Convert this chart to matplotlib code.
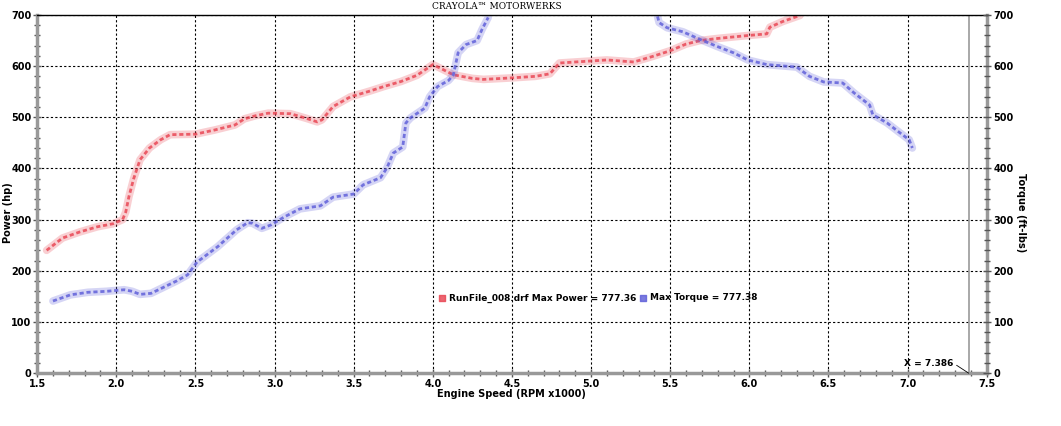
import matplotlib.pyplot as plt
import numpy as np

# engine speed (RPM x1000) and power (hp)
rpm_power = [1.56, 1.66, 1.77, 1.88, 1.98, 2.04, 2.06, 2.08, 2.11, 2.15, 2.21, 2.28, 2.34,
             2.5, 2.62, 2.75, 2.81, 2.88, 2.96, 3.1, 3.2, 3.27, 3.3, 3.37, 3.48, 3.6,
             3.69, 3.8, 3.9, 4.0, 4.06, 4.13, 4.25, 4.32, 4.5, 4.65, 4.74, 4.8, 5.0,
             5.1, 5.27, 5.39, 5.5, 5.6, 5.69, 5.8, 5.9, 6.0, 6.11, 6.13, 6.21, 6.32]
power = [240, 264, 276, 286, 292, 300, 315, 345, 380, 417, 440, 456, 466,
         467, 475, 485, 497, 503, 508, 507, 498, 491, 495, 521, 540, 551,
         560, 570, 582, 603, 594, 583, 576, 574, 577, 580, 585, 606, 610,
         612, 608, 619, 630, 643, 650, 654, 657, 660, 663, 676, 687, 699]

# engine speed (RPM x1000) and torque (ft-lbs), low and high rpm segments
rpm_torque_lo = [1.6, 1.71, 1.82, 1.94, 2.05, 2.1, 2.15, 2.22, 2.3, 2.38, 2.45, 2.51, 2.64,
                 2.76, 2.83, 2.86, 2.92, 2.98, 3.06, 3.16, 3.29, 3.37, 3.5, 3.56, 3.67,
                 3.71, 3.75, 3.81, 3.83, 3.86, 3.95, 3.98, 4.03, 4.1, 4.13, 4.16, 4.21,
                 4.28, 4.31, 4.35]
torque_lo = [141, 153, 158, 160, 163, 160, 154, 156, 168, 180, 192, 217, 247,
             280, 294, 293, 283, 290, 305, 321, 327, 344, 350, 368, 382,
             401, 430, 442, 489, 499, 518, 540, 560, 572, 583, 626, 642,
             650, 671, 695]
rpm_torque_hi = [5.42, 5.43, 5.48, 5.58, 5.69, 5.8, 5.9, 5.99, 6.11, 6.3, 6.38, 6.47,
                 6.59, 6.66, 6.76, 6.78, 6.87, 6.95, 7.01, 7.03]
torque_hi = [697, 685, 675, 667, 652, 638, 626, 612, 603, 598, 580, 569,
             567, 548, 524, 505, 489, 470, 456, 440]

cursor_x = 7.386
red = "#e8404e"
blue = "#5a5ad8"

fig = plt.figure(figsize=(10.61, 4.26), dpi=100)
ax1 = fig.add_axes([0.035, 0.124, 0.895, 0.841])


def fuzzy(ax, x, y, color):
    ax.plot(x, y, color=color, lw=5.5, alpha=0.25, solid_capstyle="round")
    ax.plot(x, y, color=color, lw=2.0, alpha=0.8, ls=(0, (1.5, 1)))


fuzzy(ax1, rpm_power, power, red)
fuzzy(ax1, rpm_torque_lo, torque_lo, blue)
fuzzy(ax1, rpm_torque_hi, torque_hi, blue)

ax1.set_xlim(1.5, 7.5)
ax1.set_ylim(0, 700)
xt = np.arange(1.5, 7.51, 0.5)
ax1.set_xticks(xt)
ax1.set_xticklabels(["%.1f" % v for v in xt], fontweight="bold")
ax1.set_xticks(np.arange(1.5, 7.51, 0.1), minor=True)
ax1.set_yticks(range(0, 701, 100))
ax1.set_yticks(range(0, 701, 20), minor=True)
ax1.grid(True, which="major", color="black", ls=(0, (2, 2)), lw=0.8)
ax1.tick_params(which="both", direction="inout", color="#555555", labelsize=7)
ax1.tick_params(which="major", length=6, width=1, pad=1)
ax1.tick_params(which="minor", length=4, width=1)
for lab in ax1.get_yticklabels():
    lab.set_fontweight("bold")

for side in ["left", "bottom", "right"]:
    ax1.spines[side].set_color("#999999")
    ax1.spines[side].set_linewidth(2.5)
ax1.spines["top"].set_color("black")
ax1.spines["top"].set_linewidth(1)

ax1.set_xlabel("Engine Speed (RPM x1000)", fontsize=7, fontweight="bold", labelpad=0)
fig.text(0.0075, 0.5, "Power (hp)", rotation=90, ha="center", va="center",
         fontsize=7, fontweight="bold")

ax2 = ax1.twinx()
ax2.set_ylim(0, 700)
ax2.set_yticks(range(0, 701, 100))
ax2.set_yticks(range(0, 701, 20), minor=True)
ax2.tick_params(which="both", direction="inout", color="#555555", labelsize=7)
ax2.tick_params(which="major", length=6, width=1, pad=2)
ax2.tick_params(which="minor", length=4, width=1)
for lab in ax2.get_yticklabels():
    lab.set_fontweight("bold")
for spine in ax2.spines.values():
    spine.set_visible(False)
fig.text(0.962, 0.5, "Torque (ft-lbs)", rotation=-90, ha="center", va="center",
         fontsize=7, fontweight="bold")

# cursor line and readout
ax1.axvline(cursor_x, color="#999999", lw=1.2)
ax1.annotate("X = %.3f" % cursor_x, xy=(cursor_x, 0), xytext=(6.98, 19),
             fontsize=6.5, fontweight="bold", va="center", ha="left",
             arrowprops=dict(arrowstyle="-", color="black", lw=0.6,
                             shrinkA=0, shrinkB=0, relpos=(1, 0.5)))

# legend
h1 = ax1.scatter([], [], marker="s", s=25, color=red, alpha=0.8)
h2 = ax1.scatter([], [], marker="s", s=25, color=blue, alpha=0.8)
ax1.legend([h1, h2], ["RunFile_008.drf Max Power = 777.36", "Max Torque = 777.38"],
           ncol=2, loc="center", bbox_to_anchor=(0.59, 0.21), frameon=False,
           prop=dict(size=6.5, weight="bold"), handletextpad=0.2,
           columnspacing=0.3, handlelength=1.0)

fig.text(0.468, 0.984, "CRAYOLA\u2122 MOTORWERKS", ha="center", va="center",
         fontsize=6.5, family="DejaVu Serif")

fig.savefig("out.png", dpi=100)
